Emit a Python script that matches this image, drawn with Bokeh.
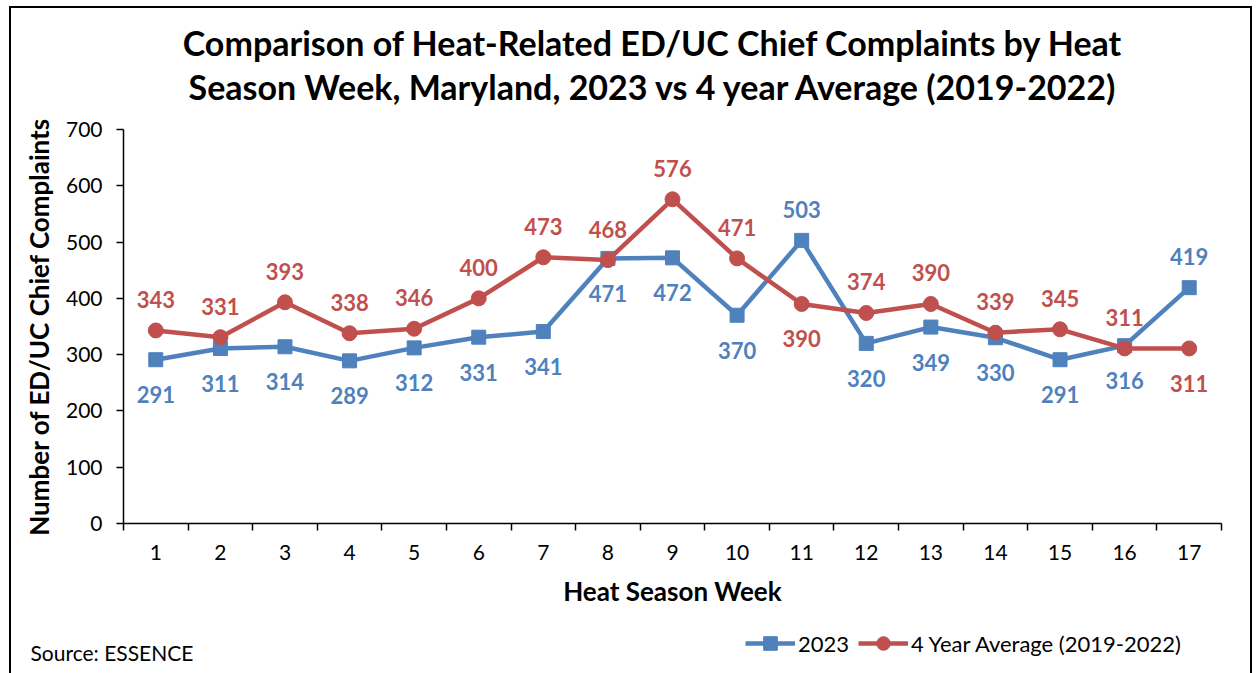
from bokeh.plotting import figure
from bokeh.layouts import column
from bokeh.models import (ColumnDataSource, FixedTicker, Legend, LegendItem, Label,
                          LabelSet, Range1d, Div)
from bokeh.core.properties import value
from bokeh.embed import file_html
from bokeh.resources import INLINE

# ---- data ----
weeks = list(range(1, 18))
week_labels = [str(w) for w in weeks]
cases_2023 = [291, 311, 314, 289, 312, 331, 341, 471, 472, 370, 503, 320, 349, 330, 291, 316, 419]
cases_avg = [343, 331, 393, 338, 346, 400, 473, 468, 576, 471, 390, 374, 390, 339, 345, 311, 311]
side_2023 = ["below"] * 10 + ["above"] + ["below"] * 5 + ["above"]
side_avg = ["above"] * 10 + ["below"] + ["above"] * 5 + ["below"]
y_ticks = [0, 100, 200, 300, 400, 500, 600, 700]

title_lines = ["Comparison of Heat-Related ED/UC Chief Complaints by Heat",
               "Season Week, Maryland, 2023 vs 4 year Average (2019-2022)"]
series_names = ["2023", "4 Year Average (2019-2022)"]
source_text = "Source: ESSENCE"

BLUE = "#4F81BD"
RED = "#C0504D"
FONT = "Lato"
W = 1239

# ---- title (HTML text) ----
title_div = Div(
    text=('<div style="box-sizing: border-box; width: ' + str(W) + 'px; '
          'font-family: Lato, sans-serif; font-weight: bold; font-size: 34px; '
          'line-height: 44px; text-align: center; padding: 13px 0 0 43px; color: black; '
          'white-space: nowrap;">' + title_lines[0] + "<br>" + title_lines[1] + "</div>"),
    width=W, height=106, margin=0)

# ---- main chart ----
p = figure(width=W, height=509, x_range=Range1d(0.5, 17.5), y_range=Range1d(0, 700),
           output_backend="svg", toolbar_location=None, title_location=None,
           min_border_left=112, min_border_right=29, min_border_top=15, min_border_bottom=100)
p.outline_line_color = None
p.xgrid.visible = False
p.ygrid.visible = False

xa = p.xaxis[0]
xa.ticker = FixedTicker(ticks=weeks, minor_ticks=[w + 0.5 for w in [0] + weeks])
xa.major_label_overrides = {w: l for w, l in zip(weeks, week_labels)}
xa.major_tick_out = 0
xa.major_tick_in = 0
xa.minor_tick_out = 7
xa.minor_tick_in = 0
xa.minor_tick_line_color = "black"
xa.minor_tick_line_width = 1.5
xa.axis_line_width = 1.5
xa.axis_line_color = "black"
xa.major_label_standoff = 14
xa.major_label_text_font = FONT
xa.major_label_text_font_size = "21px"
xa.major_label_text_color = "black"
xa.axis_label = "Heat Season Week"
xa.axis_label_text_font = FONT
xa.axis_label_text_font_size = "26px"
xa.axis_label_text_font_style = "bold"
xa.axis_label_text_color = "black"
xa.axis_label_standoff = 12

ya = p.yaxis[0]
ya.ticker = FixedTicker(ticks=y_ticks)
ya.major_tick_out = 7
ya.major_tick_in = 0
ya.minor_tick_out = 0
ya.minor_tick_in = 0
ya.major_tick_line_width = 1.5
ya.major_tick_line_color = "black"
ya.axis_line_width = 1.5
ya.axis_line_color = "black"
ya.major_label_standoff = 14
ya.major_label_text_font = FONT
ya.major_label_text_font_size = "21px"
ya.major_label_text_color = "black"
ya.axis_label = "Number of ED/UC Chief Complaints"
ya.axis_label_text_font = FONT
ya.axis_label_text_font_size = "26px"
ya.axis_label_text_font_style = "bold"
ya.axis_label_text_color = "black"
ya.axis_label_standoff = 8

def offsets(sides):
    return [31 if s == "above" else -35 for s in sides]

src_b = ColumnDataSource(dict(x=weeks, y=cases_2023, t=[str(v) for v in cases_2023],
                              off=offsets(side_2023)))
src_r = ColumnDataSource(dict(x=weeks, y=cases_avg, t=[str(v) for v in cases_avg],
                              off=offsets(side_avg)))

def draw_series(fig):
    bl = fig.line("x", "y", source=src_b, line_color=BLUE, line_width=4.5)
    bp = fig.scatter("x", "y", source=src_b, marker="square", size=14,
                     fill_color=BLUE, line_color=BLUE)
    rl = fig.line("x", "y", source=src_r, line_color=RED, line_width=4.5)
    rp = fig.scatter("x", "y", source=src_r, marker="circle", size=15,
                     fill_color=RED, line_color=RED)
    return bl, bp, rl, rp

draw_series(p)

for src, col in ((src_b, BLUE), (src_r, RED)):
    p.add_layout(LabelSet(x="x", y="y", text="t", source=src, y_offset="off",
                          text_align="center", text_baseline="middle",
                          text_font=value(FONT), text_font_size="22px",
                          text_font_style="bold", text_color=col))

# ---- bottom strip: legend + source note (ranges keep the series out of view) ----
p2 = figure(width=W, height=50, x_range=Range1d(-1, 0), y_range=Range1d(-1, 0),
            output_backend="svg", toolbar_location=None, title_location=None,
            x_axis_type=None, y_axis_type=None, min_border=0)
p2.frame_align = False
p2.outline_line_color = None
p2.xgrid.visible = False
p2.ygrid.visible = False
lb_line, lb_pts, lr_line, lr_pts = draw_series(p2)

legend = Legend(items=[LegendItem(label=series_names[0], renderers=[lb_line, lb_pts]),
                       LegendItem(label=series_names[1], renderers=[lr_line, lr_pts])],
                orientation="horizontal", location=(734, 13))
legend.border_line_color = None
legend.background_fill_alpha = 0
legend.label_text_font = FONT
legend.label_text_font_size = "22px"
legend.label_text_color = "black"
legend.glyph_width = 50
legend.glyph_height = 34
legend.label_standoff = 3
legend.spacing = 9
legend.padding = 0
legend.margin = 0
p2.add_layout(legend)

p2.add_layout(Label(x=19, y=9, x_units="screen", y_units="screen", text=source_text,
                    text_font=FONT, text_font_size="21px", text_color="black",
                    text_baseline="bottom"))

layout = column(title_div, p, p2, spacing=0, margin=(6, 0, 0, 9))
layout.styles = {"border-left": "2px solid black", "border-top": "2px solid black",
                 "border-right": "2px solid black", "background-color": "white"}

open("out.html", "w").write(file_html(layout, INLINE))
